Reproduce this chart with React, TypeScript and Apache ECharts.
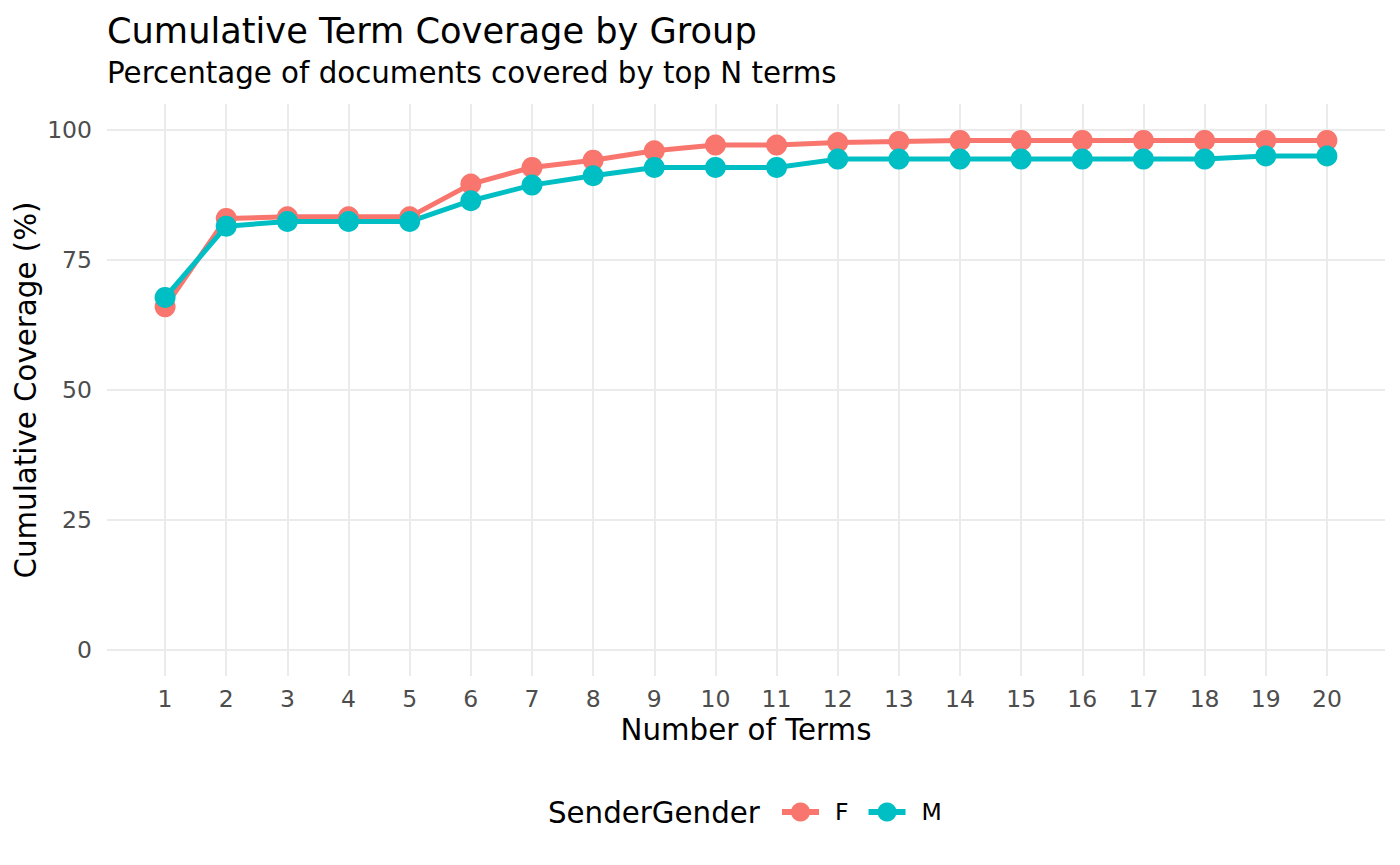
import React, { useEffect, useRef } from "react";
import * as echarts from "echarts";

const terms = [1, 2, 3, 4, 5, 6, 7, 8, 9, 10, 11, 12, 13, 14, 15, 16, 17, 18, 19, 20];
const femaleCoverage = [66.0, 83.0, 83.3, 83.3, 83.3, 89.6, 92.8, 94.2, 96.0, 97.1, 97.1, 97.6, 97.8, 98.0, 98.0, 98.0, 98.0, 98.0, 98.0, 98.0];
const maleCoverage = [67.8, 81.5, 82.4, 82.4, 82.4, 86.4, 89.4, 91.2, 92.8, 92.8, 92.8, 94.4, 94.4, 94.4, 94.4, 94.4, 94.4, 94.4, 95.0, 95.0];
const yTicks = [0, 25, 50, 75, 100];
const groupNames = ["F", "M"];
const colors = ["#F8766D", "#00BFC4"];

const FONT = "DejaVu Sans";

export default function App() {
  const ref = useRef<HTMLDivElement>(null);
  useEffect(() => {
    if (!ref.current) return;
    const chart = echarts.init(ref.current, null, { renderer: "svg" });
    const mk = (name: string, vals: number[], color: string) => ({
      name,
      type: "line",
      data: terms.map((t, i) => [t, vals[i]]),
      symbol: "circle",
      symbolSize: 21,
      lineStyle: { width: 5, color },
      itemStyle: { color },
      z: 3,
    });
    chart.setOption({
      animation: false,
      backgroundColor: "#ffffff",
      textStyle: { fontFamily: FONT },
      grid: { left: 107, right: 15, top: 104, bottom: 189, containLabel: false },
      xAxis: {
        type: "value",
        min: 0.05,
        max: 20.95,
        axisLine: { show: false },
        axisTick: { show: false, customValues: terms },
        axisLabel: {
          customValues: terms,
          color: "#4d4d4d",
          fontSize: 23.5,
          fontFamily: FONT,
          margin: 11,
        },
        splitLine: { show: true, lineStyle: { color: "#ebebeb", width: 2 } },
      },
      yAxis: {
        type: "value",
        min: -5,
        max: 105,
        axisLine: { show: false },
        axisTick: { show: false, customValues: yTicks },
        axisLabel: {
          customValues: yTicks,
          color: "#4d4d4d",
          fontSize: 23.5,
          fontFamily: FONT,
          margin: 15,
        },
        splitLine: { show: true, lineStyle: { color: "#ebebeb", width: 2 } },
      },
      legend: {
        data: groupNames,
        left: 774,
        top: 795,
        padding: 5,
        orient: "horizontal",
        itemWidth: 37,
        itemHeight: 24,
        itemGap: 17,
        lineStyle: { width: 6 },
        textStyle: { fontSize: 23.5, color: "#000000", fontFamily: FONT, padding: [0, 0, 0, 11] },
      },
      graphic: [
        {
          type: "text",
          x: 107,
          y: 30,
          style: { text: "Cumulative Term Coverage by Group", fontSize: 35.2, fontFamily: FONT, fill: "#000000", align: "left", verticalAlign: "middle" },
        },
        {
          type: "text",
          x: 107,
          y: 73,
          style: { text: "Percentage of documents covered by top N terms", fontSize: 29.3, fontFamily: FONT, fill: "#000000", align: "left", verticalAlign: "middle" },
        },
        {
          type: "text",
          x: 746,
          y: 730,
          style: { text: "Number of Terms", fontSize: 29.3, fontFamily: FONT, fill: "#000000", align: "center", verticalAlign: "middle" },
        },
        {
          type: "text",
          x: 26,
          y: 390,
          rotation: Math.PI / 2,
          style: { text: "Cumulative Coverage (%)", fontSize: 29.3, fontFamily: FONT, fill: "#000000", align: "center", verticalAlign: "middle" },
        },
        {
          type: "text",
          x: 548,
          y: 813,
          style: { text: "SenderGender", fontSize: 29.3, fontFamily: FONT, fill: "#000000", align: "left", verticalAlign: "middle" },
        },
      ],
      series: [mk(groupNames[0], femaleCoverage, colors[0]), mk(groupNames[1], maleCoverage, colors[1])],
    });
    return () => chart.dispose();
  }, []);
  return <div ref={ref} style={{ position: "fixed", left: 0, top: 0, width: 1400, height: 865 }} />;
}
